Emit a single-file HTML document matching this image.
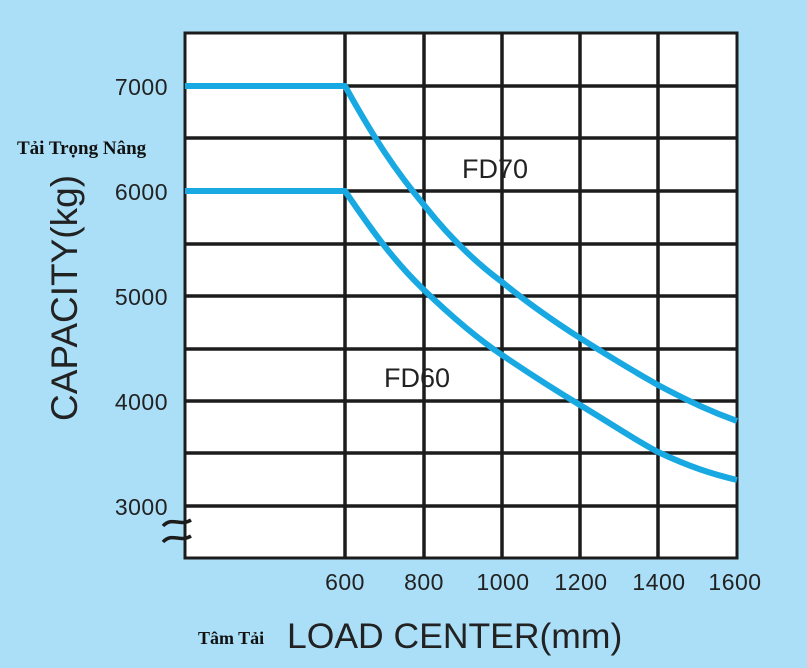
<!DOCTYPE html>
<html><head><meta charset="utf-8"><style>
html,body{margin:0;padding:0;width:807px;height:668px;overflow:hidden;background:#abdff8;}
</style></head><body>
<svg width="807" height="668" viewBox="0 0 807 668" xmlns="http://www.w3.org/2000/svg">
<rect width="807" height="668" fill="#abdff8"/>
<rect x="185" y="33" width="552" height="525" fill="#fff"/>
<g stroke="#1c1c1c" stroke-width="3.5">
<line x1="185" y1="86" x2="737" y2="86"/><line x1="185" y1="138" x2="737" y2="138"/>
<line x1="185" y1="191" x2="737" y2="191"/><line x1="185" y1="244" x2="737" y2="244"/>
<line x1="185" y1="296" x2="737" y2="296"/><line x1="185" y1="349" x2="737" y2="349"/>
<line x1="185" y1="401" x2="737" y2="401"/><line x1="185" y1="453" x2="737" y2="453"/>
<line x1="185" y1="506" x2="737" y2="506"/>
<line x1="345" y1="33" x2="345" y2="558"/><line x1="424" y1="33" x2="424" y2="558"/>
<line x1="502" y1="33" x2="502" y2="558"/><line x1="580" y1="33" x2="580" y2="558"/>
<line x1="658" y1="33" x2="658" y2="558"/>
</g>
<rect x="185" y="33" width="552" height="525" fill="none" stroke="#1c1c1c" stroke-width="3"/>
<g fill="none" stroke="#18a8e2" stroke-width="6">
<path d="M185 86 L345 86 C375 140 395 170 424 205 C450 238 475 262 502 282 C530 305 555 322 580 338 C610 357 635 372 658 385 C690 402 712 412 737 421"/>
<path d="M185 191 L345 191 C375 235 395 262 424 290 C450 315 475 337 502 355 C530 374 555 390 580 405 C610 423 635 440 658 452 C690 467 712 474 737 480"/>
</g>
<path d="M163 526 C172 516 180 527 191 520 M163 542 C172 532 180 543 191 536" stroke="#1c1c1c" stroke-width="3.5" fill="none"/>
<g font-family="Liberation Sans, sans-serif" font-size="23" fill="#222" text-anchor="end" letter-spacing="0.5">
<text x="168" y="95">7000</text><text x="168" y="200">6000</text>
<text x="168" y="305">5000</text><text x="168" y="410">4000</text>
<text x="168" y="515">3000</text>
</g>
<g font-family="Liberation Sans, sans-serif" font-size="23" fill="#222" text-anchor="middle" letter-spacing="0.5">
<text x="345" y="590">600</text><text x="424" y="590">800</text>
<text x="503" y="590">1000</text><text x="581" y="590">1200</text>
<text x="659" y="590">1400</text><text x="735" y="590">1600</text>
</g>
<text x="462" y="178" font-family="Liberation Sans, sans-serif" font-size="27" fill="#222">FD70</text>
<text x="384" y="387" font-family="Liberation Sans, sans-serif" font-size="27" fill="#222">FD60</text>
<text x="17" y="154" font-family="Liberation Serif, serif" font-size="19" font-weight="bold" fill="#111">Tải Trọng Nâng</text>
<text transform="translate(77,298) rotate(-90)" text-anchor="middle" font-family="Liberation Sans, sans-serif" font-size="37" fill="#222">CAPACITY(kg)</text>
<text x="198" y="644" font-family="Liberation Serif, serif" font-size="18" font-weight="bold" fill="#111">Tâm Tải</text>
<text x="287" y="648" font-family="Liberation Sans, sans-serif" font-size="35.5" fill="#222">LOAD CENTER(mm)</text>
</svg>
</body></html>
